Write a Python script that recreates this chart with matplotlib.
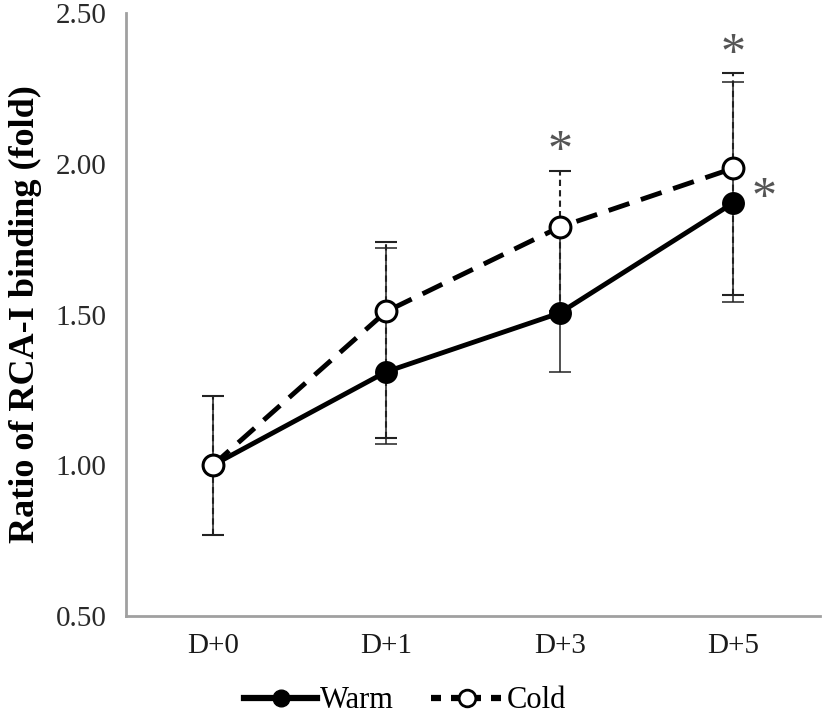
import numpy as np
import matplotlib
matplotlib.use('Agg')
import matplotlib.pyplot as plt
from matplotlib.lines import Line2D

# dane
dni = ['D+0', 'D+1', 'D+3', 'D+5']
warm = [1.00, 1.31, 1.505, 1.87]
warm_dol = [0.77, 1.07, 1.31, 1.54]
warm_gora = [1.23, 1.72, 1.78, 2.27]
cold = [1.00, 1.51, 1.79, 1.985]
cold_dol = [0.77, 1.09, 1.51, 1.565]
cold_gora = [1.23, 1.74, 1.975, 2.30]
gwiazdki = [(2, 2.04), (3, 2.36), (3.18, 1.885)]

plt.rcParams['font.family'] = ['Liberation Serif', 'DejaVu Serif']

fig = plt.figure(figsize=(8.27, 7.16), dpi=100)
ax = fig.add_axes([0.1524, 0.1397, 0.839, 0.8421])

x = np.arange(len(dni))
w = np.array(warm)
c = np.array(cold)

eb_w = ax.errorbar(x, w, yerr=[w - np.array(warm_dol), np.array(warm_gora) - w],
                   fmt='none', ecolor='#222222', elinewidth=1.1, capsize=8,
                   capthick=1.1, zorder=2)
eb_c = ax.errorbar(x, c, yerr=[c - np.array(cold_dol), np.array(cold_gora) - c],
                   fmt='none', ecolor='#222222', elinewidth=1.5, capsize=8,
                   capthick=1.5, zorder=2)
for lc in eb_c[2]:
    lc.set_linestyle((0, (3, 2)))

ax.plot(x, w, '-', color='black', lw=3.5, zorder=3)
ax.plot(x, c, '--', color='black', lw=3.5, dashes=(4.5, 2.5), zorder=3)
ax.plot(x, w, 'o', color='black', ms=15, mec='black', mew=1.5, zorder=4)
ax.plot(x, c, 'o', color='white', ms=15, mec='black', mew=2.2, zorder=4)

for gx, gy in gwiazdki:
    ax.text(gx, gy, '*', ha='center', va='center', fontsize=36,
            color='#555555', zorder=5)

ax.set_xlim(-0.5, 3.5)
ax.set_ylim(0.5, 2.5)
ax.set_yticks([0.5, 1.0, 1.5, 2.0, 2.5])
ax.set_yticklabels(['%.2f' % v for v in [0.5, 1.0, 1.5, 2.0, 2.5]])
ax.set_xticks(x)
ax.set_xticklabels(dni)
ax.tick_params(axis='y', length=0, pad=14, labelsize=21, labelcolor='#2a2a2a')
ax.tick_params(axis='x', length=0, pad=12, labelsize=21, labelcolor='#1a1a1a')

for s in ['top', 'right']:
    ax.spines[s].set_visible(False)
for s in ['left', 'bottom']:
    ax.spines[s].set_color('#a0a0a0')
    ax.spines[s].set_linewidth(2)

ax.set_ylabel('Ratio of RCA-I binding (fold)', fontsize=26, fontweight='bold',
              labelpad=10)

uchwyty = [Line2D([], [], color='black', lw=4.5, marker='o', ms=12,
                  mfc='black', mec='black'),
           Line2D([], [], color='black', lw=4.5, ls='--', dashes=(1.6, 1.6),
                  marker='o', ms=12, mfc='white', mec='black', mew=2)]
fig.legend(uchwyty, ['Warm', 'Cold'], loc='center', bbox_to_anchor=(0.49, 0.021),
           ncol=2, frameon=False, fontsize=22, handlelength=2.4,
           handletextpad=0.1, columnspacing=1.2, borderpad=0)

fig.savefig('out.png', dpi=100)
